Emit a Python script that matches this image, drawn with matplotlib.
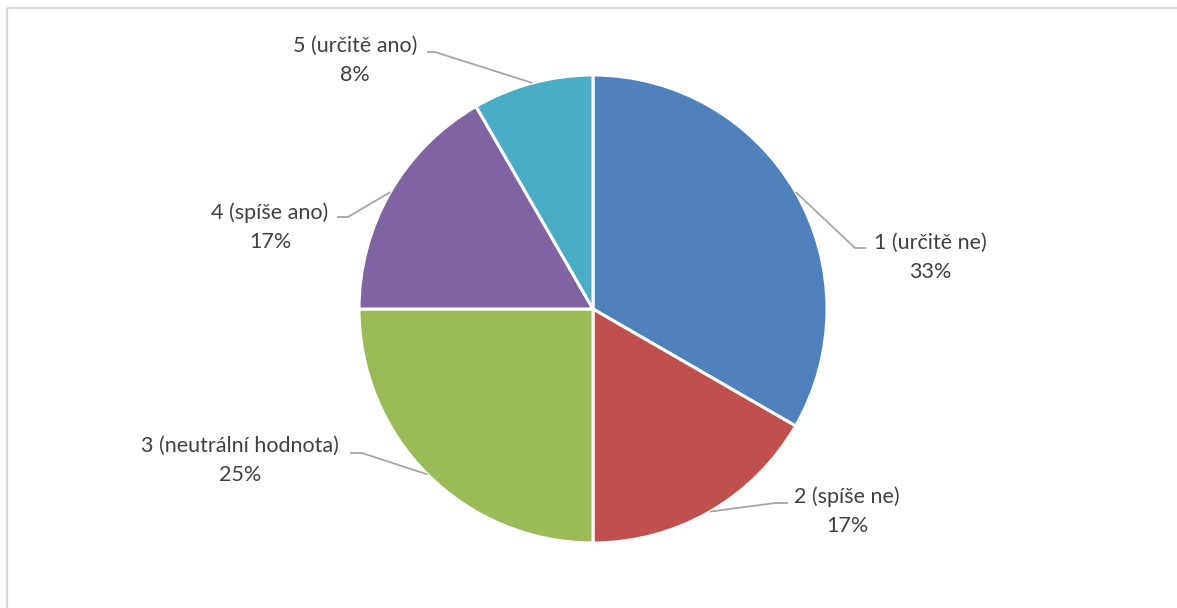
import numpy as np
import matplotlib
matplotlib.use("Agg")
import matplotlib.pyplot as plt
from matplotlib.patches import Rectangle

# Survey answers (counts) and their labels
categories = ["1 (určitě ne)", "2 (spíše ne)", "3 (neutrální hodnota)",
              "4 (spíše ano)", "5 (určitě ano)"]
counts = [4, 2, 3, 2, 1]
colors = ["#4F81BD", "#C0504D", "#9BBB59", "#8064A2", "#4BACC6"]

W, H = 1177, 608
fig = plt.figure(figsize=(W / 100, H / 100), dpi=100)
ax = fig.add_axes([0, 0, 1, 1])

# chart-area frame
ax.add_patch(Rectangle((6.5, 7.5), W, H, fill=False, edgecolor="#D9D9D9",
                       linewidth=1.6, zorder=0))

cx, cy, r = 593, 309, 234
total = sum(counts)
fracs = [c / total for c in counts]

# y axis grows downward, so counterclock=True from -90 runs clockwise from the top
wedges, _ = ax.pie(fracs, colors=colors, startangle=-90, counterclock=True,
                   center=(cx, cy), radius=r, frame=True,
                   wedgeprops=dict(edgecolor="white", linewidth=2.2))
ax.set_xlim(0, W)
ax.set_ylim(H, 0)
ax.set_aspect("equal")
ax.axis("off")

# label boxes: (center x, first-line y, elbow x, elbow y, end x)
label_pos = [
    (930, 243, 855, 248, 866),
    (847, 497, 775, 503, 788),
    (240, 446, 362, 453, 350),
    (270, 213, 348, 217, 337),
    (355, 46, 435, 52, 427),
]

text_kw = dict(fontfamily="Lato", fontsize=15.5, color="#404040",
               ha="center", va="center")
cum = 0.0
for cat, f, (lx, ly, ex, ey, tx) in zip(categories, fracs, label_pos):
    mid = cum + f / 2
    cum += f
    ang = np.deg2rad(90 - 360 * mid)
    px = cx + r * np.cos(ang)
    py = cy - r * np.sin(ang)
    ax.plot([px, ex, tx], [py, ey, ey], color="#A6A6A6", linewidth=1.3,
            solid_capstyle="butt", zorder=3)
    ax.text(lx, ly, cat, **text_kw)
    ax.text(lx, ly + 29, f"{round(f * 100)}%", **text_kw)

fig.savefig("out.png", dpi=100, facecolor="white")
